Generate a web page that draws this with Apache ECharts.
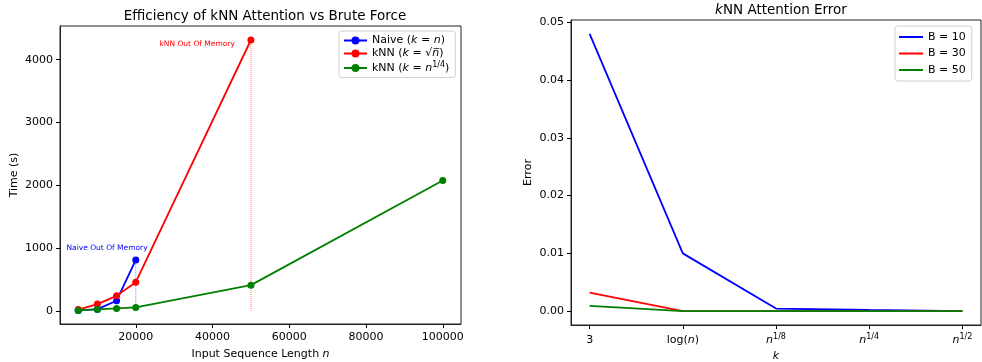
<!DOCTYPE html>
<html>
<head>
<meta charset="utf-8">
<script src="https://cdn.jsdelivr.net/npm/echarts@6/dist/echarts.min.js"></script>
<style>
  html, body { margin: 0; padding: 0; background: #fff; }
  #main { width: 982px; height: 362px; }
</style>
</head>
<body>
<div id="main"></div>
<script>
// 左图：运行时间
const seqLen = [5000, 10000, 15000, 20000, 50000, 100000];
const naiveTime = [3, 25, 160, 810];
const knnSqrtTime = [18, 106, 238, 455, 4313];
const knnQuartTime = [5, 21, 37, 53, 408, 2074];
const lenTicks = [20000, 40000, 60000, 80000, 100000];
const timeTicks = [0, 1000, 2000, 3000, 4000];
const naiveOom = [20000, 810];
const knnOom = [50000, 4313];
const naiveOomText = [12500, 1000];
const knnOomText = [36000, 4250];

// 右图：误差
const kLabels = ["3", "log(n)", "n^1/8", "n^1/4", "n^1/2"];
const errB10 = [0.048, 0.01, 0.00045, 0.0002, 0.0];
const errB30 = [0.0032, 0.0, 0.0, 0.0, 0.0];
const errB50 = [0.0009, 0.0, 0.0, 0.0, 0.0];
const errTicks = [0, 0.01, 0.02, 0.03, 0.04, 0.05];

const FONT = "DejaVu Sans";
const LW = 1.8;
const rich = {
	r: { fontFamily: FONT, fontSize: 11, color: "#000", fontWeight: "normal", lineHeight: 14 },
	i: { fontFamily: FONT, fontSize: 11, color: "#000", fontWeight: "normal", fontStyle: "italic", lineHeight: 14 },
	s: { fontFamily: FONT, fontSize: 8, color: "#000", fontWeight: "normal", lineHeight: 8, verticalAlign: "top" },
};
const pairs = (ys) => ys.map((y, i) => [seqLen[i], y]);
const idx = (ys) => ys.map((y, i) => [i, y]);
const drop = (p) => [p, [p[0], 0]];

const legendText = {
	"Naive (k = n)": "{r|Naive (}{i|k}{r| = }{i|n}{r|)}",
	"kNN (k = √n)": "{r|kNN (}{i|k}{r| = √}{i|n̅}{r|)}",
	"kNN (k = n^1/4)": "{r|kNN (}{i|k}{r| = }{i|n}{s|1/4}{r|)}",
};
const kText = (v) => {
	const l = kLabels[v];
	if (l === "log(n)") return "{r|log(}{i|n}{r|)}";
	if (l.startsWith("n^")) return "{i|n}{s|" + l.slice(2) + "}";
	return "{r|" + l + "}";
};

const axisCommon = {
	nameMoveOverlap: false,
	axisLine: { show: true, onZero: false, lineStyle: { color: "#222", width: 1 } },
	axisTick: { show: true, inside: false, length: 4, lineStyle: { color: "#000" } },
	splitLine: { show: false },
	axisLabel: { color: "#000", fontFamily: FONT, fontSize: 11, margin: 8 },
	nameTextStyle: { color: "#000", fontFamily: FONT, fontSize: 11, rich },
};

// 虚线 + 文字注释
const oomSeries = (name, pt, textPt, text, lineColor, textColor) => ({
	name, type: "line", xAxisIndex: 0, yAxisIndex: 0, z: 1,
	data: drop(pt), symbol: "none", silent: true,
	lineStyle: { type: "dotted", width: 1, color: lineColor },
	markPoint: {
		symbol: "circle", symbolSize: 0,
		label: { show: true, position: "inside", color: textColor, fontFamily: FONT, fontSize: 7.5, formatter: text },
		data: [{ coord: textPt }],
	},
});

let chart = echarts.init(document.getElementById("main"));
const option = {
	animation: false,
	backgroundColor: "#fff",
	title: [
		{
			text: "Efficiency of kNN Attention vs Brute Force",
			left: 260, top: 4, textAlign: "center",
			textStyle: { fontFamily: FONT, fontSize: 13.5, fontWeight: "normal", color: "#000" },
		},
		{
			text: "{i|k}{r|NN Attention Error}",
			left: 776, top: -2, textAlign: "center",
			textStyle: {
				fontWeight: "normal",
				rich: {
					r: { fontFamily: FONT, fontSize: 13.5, fontWeight: "normal", color: "#000" },
					i: { fontFamily: FONT, fontSize: 13.5, fontWeight: "normal", color: "#000", fontStyle: "italic" },
				},
			},
		},
	],
	grid: [
		{ left: 60, top: 26, width: 401, height: 298, outerBoundsMode: "none", show: true, borderColor: "#222", borderWidth: 1, backgroundColor: "transparent" },
		{ left: 571, top: 20, width: 410, height: 305, outerBoundsMode: "none", show: true, borderColor: "#222", borderWidth: 1, backgroundColor: "transparent" },
	],
	legend: [
		{
			data: Object.keys(legendText),
			orient: "vertical", left: 339, top: 31,
			itemWidth: 23, itemHeight: 10, itemGap: 2,
			padding: [4, 6, 4, 4],
			backgroundColor: "#fff", borderColor: "#d0d0d0", borderWidth: 1, borderRadius: 3,
			formatter: (name) => legendText[name],
			textStyle: { rich },
		},
		{
			data: ["B = 10", "B = 30", "B = 50"],
			orient: "vertical", left: 895, top: 26,
			icon: "rect",
			itemWidth: 24, itemHeight: 2, itemGap: 2.5,
			padding: [4, 6, 4, 4],
			backgroundColor: "#fff", borderColor: "#d0d0d0", borderWidth: 1, borderRadius: 3,
			textStyle: { fontFamily: FONT, fontSize: 11, color: "#000", lineHeight: 14 },
		},
	],
	xAxis: [
		{
			...axisCommon, type: "value", gridIndex: 0, min: 250, max: 104750,
			name: "Input Sequence Length {i|n}", nameLocation: "middle", nameGap: 23,
			axisTick: { ...axisCommon.axisTick, customValues: lenTicks },
			axisLabel: { ...axisCommon.axisLabel, customValues: lenTicks, formatter: (v) => String(v) },
		},
		{
			...axisCommon, type: "value", gridIndex: 1, min: -0.2, max: 4.2,
			name: "{i|k}", nameLocation: "middle", nameGap: 24,
			axisTick: { ...axisCommon.axisTick, customValues: [0, 1, 2, 3, 4] },
			axisLabel: { ...axisCommon.axisLabel, customValues: [0, 1, 2, 3, 4], formatter: kText, rich },
		},
	],
	yAxis: [
		{
			...axisCommon, type: "value", gridIndex: 0, min: -211, max: 4536,
			name: "Time (s)", nameLocation: "middle", nameGap: 40,
			axisTick: { ...axisCommon.axisTick, customValues: timeTicks },
			axisLabel: { ...axisCommon.axisLabel, margin: 7, customValues: timeTicks, formatter: (v) => String(v) },
		},
		{
			...axisCommon, type: "value", gridIndex: 1, min: -0.0024, max: 0.0504,
			name: "Error", nameLocation: "middle", nameGap: 37,
			axisTick: { ...axisCommon.axisTick, customValues: errTicks },
			axisLabel: { ...axisCommon.axisLabel, margin: 7, customValues: errTicks, formatter: (v) => v.toFixed(2) },
		},
	],
	series: [
		oomSeries("naiveOom", naiveOom, naiveOomText, "Naive Out Of Memory", "#8080ff", "#0000ff"),
		oomSeries("knnOom", knnOom, knnOomText, "kNN Out Of Memory", "#ff7070", "#ff0000"),
		{
			name: "Naive (k = n)", type: "line", xAxisIndex: 0, yAxisIndex: 0,
			data: pairs(naiveTime), color: "#0000ff",
			symbol: "circle", symbolSize: 7, lineStyle: { width: LW },
		},
		{
			name: "kNN (k = √n)", type: "line", xAxisIndex: 0, yAxisIndex: 0,
			data: pairs(knnSqrtTime), color: "#ff0000",
			symbol: "circle", symbolSize: 7, lineStyle: { width: LW },
		},
		{
			name: "kNN (k = n^1/4)", type: "line", xAxisIndex: 0, yAxisIndex: 0,
			data: pairs(knnQuartTime), color: "#008000",
			symbol: "circle", symbolSize: 7, lineStyle: { width: LW },
		},
		{
			name: "B = 10", type: "line", xAxisIndex: 1, yAxisIndex: 1,
			data: idx(errB10), color: "#0000ff", symbol: "none", lineStyle: { width: LW },
		},
		{
			name: "B = 30", type: "line", xAxisIndex: 1, yAxisIndex: 1,
			data: idx(errB30), color: "#ff0000", symbol: "none", lineStyle: { width: LW },
		},
		{
			name: "B = 50", type: "line", xAxisIndex: 1, yAxisIndex: 1,
			data: idx(errB50), color: "#008000", symbol: "none", lineStyle: { width: LW },
		},
	],
};
chart.setOption(option);
</script>
</body>
</html>
